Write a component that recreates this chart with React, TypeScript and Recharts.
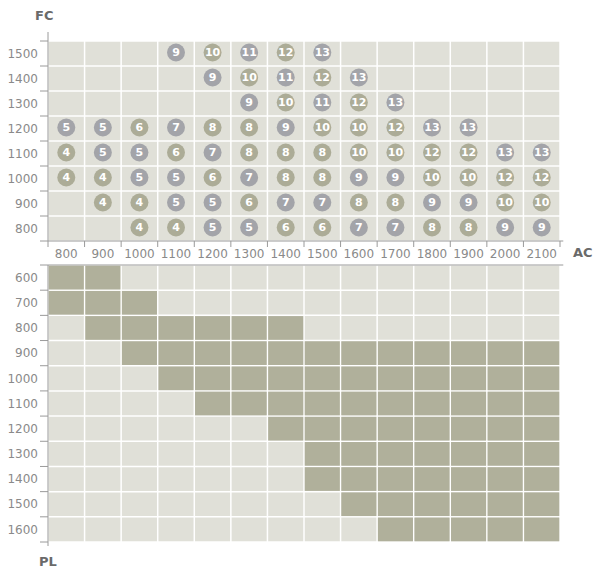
import React from "react";
import {
  CartesianGrid,
  ReferenceLine,
  Scatter,
  ScatterChart,
  XAxis,
  YAxis,
} from "recharts";

// AC columns (shared by both panels)
const acValues = [800, 900, 1000, 1100, 1200, 1300, 1400, 1500, 1600, 1700, 1800, 1900, 2000, 2100];

// top panel: FC rows, one number per AC column (null = empty)
const fcValues = [1500, 1400, 1300, 1200, 1100, 1000, 900, 800];
const fc1500 = [null, null, null, 9, 10, 11, 12, 13, null, null, null, null, null, null];
const fc1400 = [null, null, null, null, 9, 10, 11, 12, 13, null, null, null, null, null];
const fc1300 = [null, null, null, null, null, 9, 10, 11, 12, 13, null, null, null, null];
const fc1200 = [5, 5, 6, 7, 8, 8, 9, 10, 10, 12, 13, 13, null, null];
const fc1100 = [4, 5, 5, 6, 7, 8, 8, 8, 10, 10, 12, 12, 13, 13];
const fc1000 = [4, 4, 5, 5, 6, 7, 8, 8, 9, 9, 10, 10, 12, 12];
const fc900 = [null, 4, 4, 5, 5, 6, 7, 7, 8, 8, 9, 9, 10, 10];
const fc800 = [null, null, 4, 4, 5, 5, 6, 6, 7, 7, 8, 8, 9, 9];
const fcRows = [fc1500, fc1400, fc1300, fc1200, fc1100, fc1000, fc900, fc800];

// bottom panel: PL rows, shaded AC range (first..last)
const plValues = [600, 700, 800, 900, 1000, 1100, 1200, 1300, 1400, 1500, 1600];
const plFrom = [800, 800, 900, 1000, 1100, 1200, 1400, 1500, 1500, 1600, 1700];
const plTo = [900, 1000, 1400, 2100, 2100, 2100, 2100, 2100, 2100, 2100, 2100];

const STEP = 100;
const HALF = STEP / 2;

const circles = fcRows.flatMap((row, i) =>
  row
    .map((n, j) => ({ ac: acValues[j], fc: fcValues[i], n }))
    .filter((d) => d.n !== null)
);

const shaded = plValues.flatMap((pl, i) =>
  acValues.filter((ac) => ac >= plFrom[i] && ac <= plTo[i]).map((ac) => ({ ac, pl }))
);

const bounds = (vals: number[]) => {
  const s = [...vals].sort((a, b) => a - b);
  return [...s.map((v) => v - HALF), s[s.length - 1] + HALF];
};

const acTicks = bounds(acValues);
const fcTicks = bounds(fcValues);
const plTicks = bounds(plValues);
const acDomain = [acTicks[0], acTicks[acTicks.length - 1]];
const fcDomain = [fcTicks[0], fcTicks[fcTicks.length - 1]];
const plDomain = [plTicks[0], plTicks[plTicks.length - 1]];

const W = 597;
const H = 574;
const PLOT_LEFT = 48;
const PLOT_W = 512;
const TOP_Y = 41;
const TOP_H = 200;
const BOT_Y = 265;
const BOT_H = 277;

const colW = PLOT_W / acValues.length;
const topRowH = TOP_H / fcValues.length;
const botRowH = BOT_H / plValues.length;

const FONT = "'DejaVu Sans', Verdana, sans-serif";
const LABEL = "#8a8a8a";
const AXIS = "#9a9a9a";
const BG = "#e0e0d8";
const DARK = "#b0b09b";
const GREY_DOT = "#a3a4a9";
const OLIVE_DOT = "#acac97";

const XTick = (props: any) => {
  const { x, y, payload } = props;
  if (payload.value >= acDomain[1]) return <g />;
  return (
    <text x={x + colW / 2} y={y} dy="0.71em" textAnchor="middle" fill={LABEL} fontSize={12} fontFamily={FONT}>
      {payload.value + HALF}
    </text>
  );
};

const NoTick = () => <g />;

const FcTick = (props: any) => {
  const { x, y, payload } = props;
  if (payload.value >= fcDomain[1]) return <g />;
  return (
    <text x={x} y={y - topRowH / 2} dy="0.355em" textAnchor="end" fill={LABEL} fontSize={12} fontFamily={FONT}>
      {payload.value + HALF}
    </text>
  );
};

const PlTick = (props: any) => {
  const { x, y, payload } = props;
  if (payload.value >= plDomain[1]) return <g />;
  return (
    <text x={x} y={y + botRowH / 2} dy="0.355em" textAnchor="end" fill={LABEL} fontSize={12} fontFamily={FONT}>
      {payload.value + HALF}
    </text>
  );
};

const Dot = (props: any) => {
  const { cx, cy, payload } = props;
  const fill = payload.n % 2 === 0 ? OLIVE_DOT : GREY_DOT;
  return (
    <g>
      <circle cx={cx} cy={cy - 1} r={9} fill={fill} />
      <text
        x={cx}
        y={cy - 1}
        dy="0.36em"
        textAnchor="middle"
        fill="#fff"
        fontSize={11}
        fontWeight="bold"
        fontFamily={FONT}
      >
        {payload.n}
      </text>
    </g>
  );
};

const Cell = (props: any) => {
  const { cx, cy } = props;
  return (
    <rect
      x={cx - colW / 2 + 0.75}
      y={cy - botRowH / 2 + 0.75}
      width={colW - 1.5}
      height={botRowH - 1.5}
      fill={DARK}
    />
  );
};

const title: React.CSSProperties = {
  position: "absolute",
  fontFamily: FONT,
  fontWeight: "bold",
  fontSize: 13,
  color: "#6a6a6a",
  lineHeight: "16px",
};

export default function App() {
  return (
    <div style={{ position: "fixed", left: 0, top: 0, width: W, height: H, background: "#fff" }}>
      <div style={{ position: "absolute", left: 0, top: 0 }}>
        <ScatterChart
          width={W}
          height={TOP_Y + TOP_H + 23}
          margin={{ top: TOP_Y, right: W - PLOT_LEFT - PLOT_W, left: 8, bottom: 0 }}
        >
          <CartesianGrid fill={BG} stroke="#fff" strokeWidth={1.5} />
          <XAxis
            type="number"
            dataKey="ac"
            domain={acDomain}
            ticks={acTicks}
            interval={0}
            height={23}
            tickSize={6}
            tickMargin={2}
            axisLine={{ stroke: AXIS }}
            tickLine={{ stroke: AXIS }}
            tick={<XTick />}
          />
          <YAxis
            type="number"
            dataKey="fc"
            domain={fcDomain}
            ticks={fcTicks}
            interval={0}
            width={40}
            tickSize={8}
            tickMargin={2}
            axisLine={{ stroke: AXIS }}
            tickLine={{ stroke: AXIS }}
            tick={<FcTick />}
          />
          <ReferenceLine
            segment={[{ x: acDomain[0], y: fcDomain[1] }, { x: acDomain[0], y: fcDomain[1] + 36 }]}
            stroke={AXIS}
            ifOverflow="visible"
          />
          <ReferenceLine
            segment={[{ x: acDomain[1], y: fcDomain[0] }, { x: acDomain[1] + 9, y: fcDomain[0] }]}
            stroke={AXIS}
            ifOverflow="visible"
          />
          <Scatter data={circles} shape={<Dot />} isAnimationActive={false} />
        </ScatterChart>
      </div>
      <div style={{ position: "absolute", left: 0, top: BOT_Y - 1 }}>
        <ScatterChart
          width={W}
          height={H - BOT_Y + 1}
          margin={{ top: 0, right: W - PLOT_LEFT - PLOT_W, left: 8, bottom: H - BOT_Y - BOT_H }}
        >
          <CartesianGrid fill={BG} stroke="#fff" strokeWidth={1.5} />
          <XAxis
            type="number"
            dataKey="ac"
            orientation="top"
            domain={acDomain}
            ticks={acTicks}
            interval={0}
            height={1}
            tick={<NoTick />}
            tickLine={false}
            axisLine={{ stroke: AXIS }}
          />
          <YAxis
            type="number"
            dataKey="pl"
            reversed
            domain={plDomain}
            ticks={plTicks}
            interval={0}
            width={40}
            tickSize={8}
            tickMargin={2}
            axisLine={{ stroke: AXIS }}
            tickLine={{ stroke: AXIS }}
            tick={<PlTick />}
          />
          <Scatter data={shaded} shape={<Cell />} isAnimationActive={false} />
          <ReferenceLine
            segment={[{ x: acDomain[0], y: plDomain[1] }, { x: acDomain[0], y: plDomain[1] + 16 }]}
            stroke={AXIS}
            ifOverflow="visible"
          />
          <ReferenceLine
            segment={[{ x: acDomain[1], y: plDomain[0] }, { x: acDomain[1] + 9, y: plDomain[0] }]}
            stroke={AXIS}
            ifOverflow="visible"
          />
        </ScatterChart>
      </div>
      <div style={{ ...title, left: 35, top: 8 }}>FC</div>
      <div style={{ ...title, left: 573, top: 245 }}>AC</div>
      <div style={{ ...title, left: 39, top: 554 }}>PL</div>
    </div>
  );
}
